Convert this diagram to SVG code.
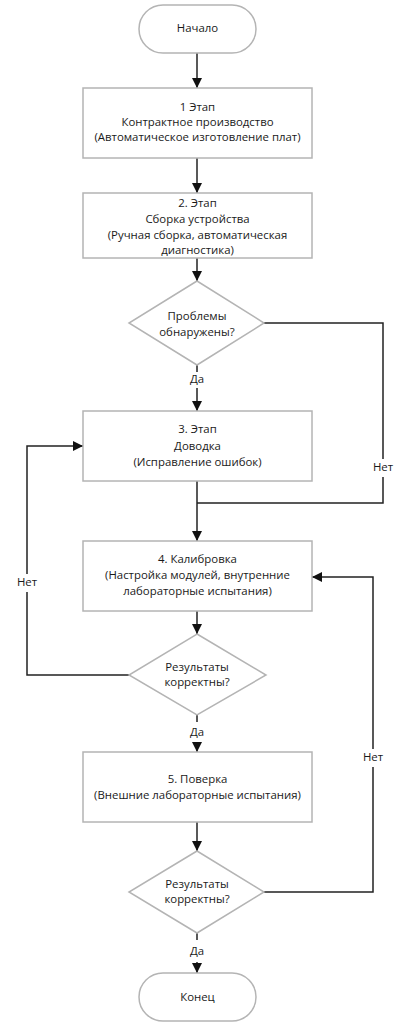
<svg xmlns="http://www.w3.org/2000/svg" width="405" height="1024" viewBox="0 0 405 1024">
<defs>
<marker id="arr" markerWidth="10" markerHeight="10" refX="10" refY="5" orient="auto" markerUnits="userSpaceOnUse">
<path d="M0,0 L10,5 L0,10 Z" fill="#111"/>
</marker>
<style>
.shape{fill:#fff;stroke:#b4b4b4;stroke-width:1.5}
.t{font-family:"Open Sans","Liberation Sans",sans-serif;font-size:11.4px;fill:#1a1a1a;text-anchor:middle;dominant-baseline:middle}
.c{fill:none;stroke:#222;stroke-width:1.5}
</style>
</defs>
<rect width="405" height="1024" fill="#fff"/>
<g id="connectors">
<path class="c" d="M197,53 V88" marker-end="url(#arr)"/>
<path class="c" d="M197,158 V193" marker-end="url(#arr)"/>
<path class="c" d="M197,258 V281" marker-end="url(#arr)"/>
<path class="c" d="M197,365 V372 M197,388 V411" marker-end="url(#arr)"/>
<path class="c" d="M197,481 V541" marker-end="url(#arr)"/>
<path class="c" d="M264,323 H383 V459 M383,477 V503 H197"/>
<path class="c" d="M197,611 V634" marker-end="url(#arr)"/>
<path class="c" d="M129,675 H27 V592 M27,574 V446 H83" marker-end="url(#arr)"/>
<path class="c" d="M197,715 V722 M197,745 V752" marker-end="url(#arr)"/>
<path class="c" d="M197,822 V851" marker-end="url(#arr)"/>
<path class="c" d="M264,892 H373 V767 M373,749 V577 H312" marker-end="url(#arr)"/>
<path class="c" d="M197,933 V940 M197,962 V973" marker-end="url(#arr)"/>
</g>
<g id="label-no1"><text class="t" x="383" y="468">Нет</text></g>
<g id="label-yes1"><text class="t" x="197" y="380">Да</text></g>
<g id="label-no2"><text class="t" x="27" y="583">Нет</text></g>
<g id="label-yes2"><text class="t" x="197" y="733">Да</text></g>
<g id="label-no3"><text class="t" x="373" y="758">Нет</text></g>
<g id="label-yes3"><text class="t" x="197" y="952">Да</text></g>
<g id="start">
<rect class="shape" x="139" y="5" width="117" height="48" rx="24"/>
<text class="t" x="197.5" y="29">Начало</text>
</g>
<g id="step1">
<rect class="shape" x="83" y="88" width="229" height="70"/>
<text class="t" x="197.5" y="108">1 Этап</text>
<text class="t" x="197.5" y="123">Контрактное производство</text>
<text class="t" x="197.5" y="138">(Автоматическое изготовление плат)</text>
</g>
<g id="step2">
<rect class="shape" x="83" y="193" width="229" height="65"/>
<text class="t" x="197.5" y="204">2. Этап</text>
<text class="t" x="197.5" y="220">Сборка устройства</text>
<text class="t" x="197.5" y="236">(Ручная сборка, автоматическая</text>
<text class="t" x="197.5" y="251">диагностика)</text>
</g>
<g id="decision1">
<polygon class="shape" points="197,281 264,323 197,365 129,323"/>
<text class="t" x="197" y="317">Проблемы</text>
<text class="t" x="197" y="333">обнаружены?</text>
</g>
<g id="step3">
<rect class="shape" x="83" y="411" width="229" height="70"/>
<text class="t" x="197.5" y="430">3. Этап</text>
<text class="t" x="197.5" y="447">Доводка</text>
<text class="t" x="197.5" y="463">(Исправление ошибок)</text>
</g>
<g id="step4">
<rect class="shape" x="83" y="541" width="229" height="70"/>
<text class="t" x="197.5" y="560">4. Калибровка</text>
<text class="t" x="197.5" y="576">(Настройка модулей, внутренние</text>
<text class="t" x="197.5" y="592">лабораторные испытания)</text>
</g>
<g id="decision2">
<polygon class="shape" points="197,634 266,675 197,715 129,675"/>
<text class="t" x="197" y="668">Результаты</text>
<text class="t" x="197" y="683">корректны?</text>
</g>
<g id="step5">
<rect class="shape" x="83" y="752" width="229" height="70"/>
<text class="t" x="197.5" y="780">5. Поверка</text>
<text class="t" x="197.5" y="796">(Внешние лабораторные испытания)</text>
</g>
<g id="decision3">
<polygon class="shape" points="197,851 264,892 197,933 129,892"/>
<text class="t" x="197" y="885">Результаты</text>
<text class="t" x="197" y="900">корректны?</text>
</g>
<g id="end">
<rect class="shape" x="139" y="973" width="117" height="48" rx="24"/>
<text class="t" x="197.5" y="998">Конец</text>
</g>
</svg>
